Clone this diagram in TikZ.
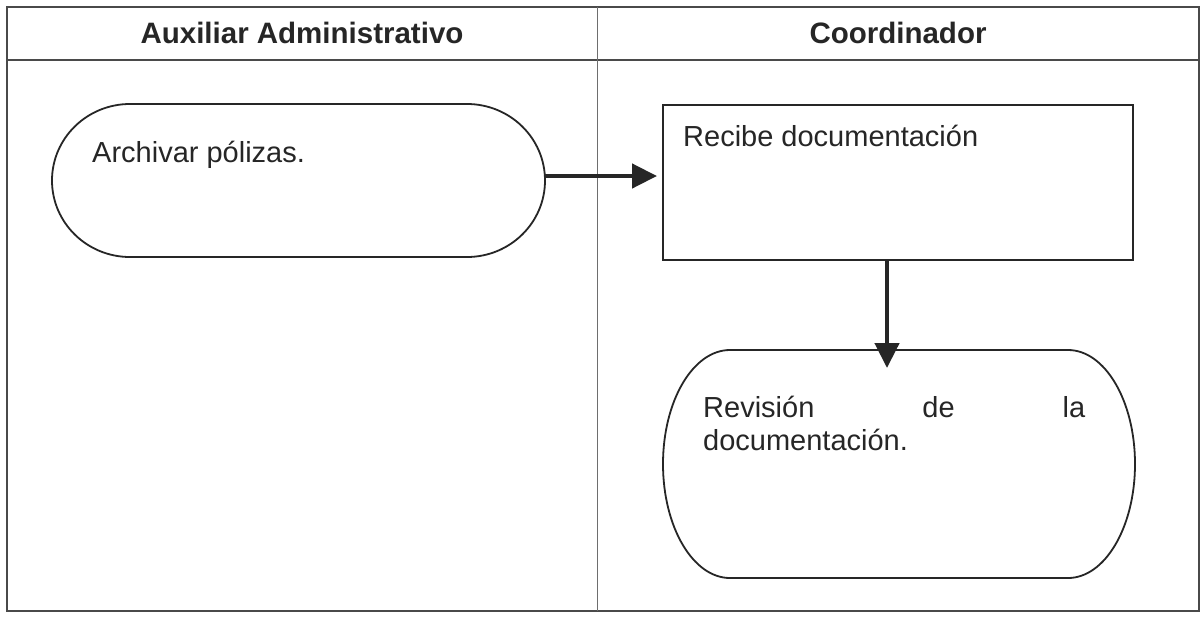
\documentclass[tikz,border=0pt]{standalone}
\usepackage{fontspec}
\setmainfont{Liberation Sans}
\usetikzlibrary{arrows.meta,calc}
\definecolor{ink}{HTML}{262626}
\definecolor{frame}{HTML}{4A4A4A}
\begin{document}
\begin{tikzpicture}[x=1pt,y=-1pt,
  frameline/.style={draw=frame,line width=1.3pt},
  laneline/.style={draw=frame!80,line width=0.9pt},
  shapeline/.style={draw=ink,line width=1.8pt},
  holder/.style={draw=none,inner sep=0pt,outer sep=0pt},
  procbox/.style={shapeline,inner sep=0pt,outer sep=0pt},
  head/.style={font=\fontsize{29.5}{34}\selectfont\bfseries,text=ink,inner sep=0pt},
  body/.style={font=\fontsize{29}{33}\selectfont,text=ink,inner sep=0pt,anchor=base west},
  flow/.style={draw=ink,line width=4.5pt,-{Triangle[length=25pt,width=24pt]}}
]
\useasboundingbox (0,0) rectangle (1201,616);
\fill[white] (0,0) rectangle (1201,616);
% frame
\draw[frameline] (7,7) rectangle (1199,611);
\draw[frameline] (7,60) -- (1199,60);
\draw[laneline] (597,7) -- (597,611);
\node[head] (h1) at (302,33) {Auxiliar Administrativo};
\node[head] (h2) at (898,33) {Coordinador};
% shape A (terminal)
\node[holder,minimum width=493pt,minimum height=153pt] (a) at (298.5,180.5) {};
\draw[shapeline] ([xshift=78pt]a.north west) -- ([xshift=-78pt]a.north east)
  arc[start angle=90,end angle=-90,x radius=78pt,y radius=76.5pt]
  -- ([xshift=78pt]a.south west)
  arc[start angle=270,end angle=90,x radius=78pt,y radius=76.5pt] -- cycle;
\node[body] (ta) at (92,162) {Archivar pólizas.};
% box B
\node[procbox,draw,minimum width=470pt,minimum height=155pt] (b) at (898,182.5) {};
\node[body] (tb) at (683,146) {Recibe documentación};
% shape C (terminal)
\node[holder,minimum width=472pt,minimum height=228pt] (c) at (899,464) {};
\draw[shapeline] ([xshift=67pt]c.north west) -- ([xshift=-67pt]c.north east)
  arc[start angle=90,end angle=-90,x radius=67pt,y radius=114pt]
  -- ([xshift=67pt]c.south west)
  arc[start angle=270,end angle=90,x radius=67pt,y radius=114pt] -- cycle;
\node[body] (tc) at (703,417) {\parbox[t]{382pt}{\makebox[382pt][s]{Revisión\hfill de\hfill la}\\documentación.}};
% connectors
\draw[flow] ($(a.east)+(0,-4.5)$) -- ($(a.east -| b.west)+(-6,-4.5)$);
\draw[flow] ($(b.south)+(-11,0)$) -- ($(b.south |- c.north)+(-11,18)$);
\end{tikzpicture}
\end{document}
